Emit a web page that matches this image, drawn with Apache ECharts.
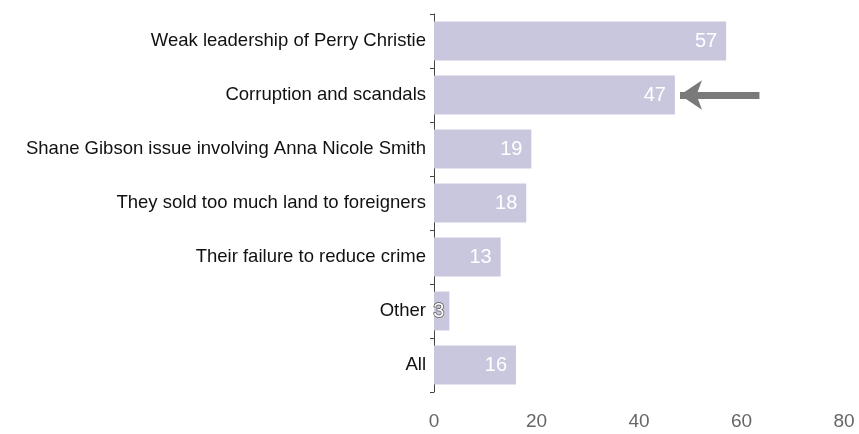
<!DOCTYPE html>
<html><head><meta charset="utf-8">
<script src="https://cdn.jsdelivr.net/npm/echarts@6/dist/echarts.min.js"></script>
<style>html,body{margin:0;padding:0;background:#fff}#c{width:859px;height:434px}</style>
</head><body><div id="c"></div>
<script>
const categories = ["Weak leadership of Perry Christie","Corruption and scandals","Shane Gibson issue involving Anna Nicole Smith","They sold too much land to foreigners","Their failure to reduce crime","Other","All"];
const values = [57,47,19,18,13,3,16];
const xTicks = [0,20,40,60,80];
const arrowFrom = 63.5, arrowTo = 48, arrowCategory = "Corruption and scandals";

const chart = echarts.init(document.getElementById('c'));
chart.setOption({
  animation:false,
  grid:{left:434,right:15,top:14,bottom:42},
  xAxis:{type:'value',min:xTicks[0],max:xTicks[xTicks.length-1],interval:20,
    axisLine:{show:false},axisTick:{show:false},splitLine:{show:false},
    axisLabel:{margin:20,fontSize:19,color:'#666',fontFamily:'Liberation Sans, Arial, sans-serif',
      formatter:v=>xTicks.includes(v)?String(v):''}},
  yAxis:{type:'category',data:categories,inverse:true,
    axisLine:{show:true,lineStyle:{color:'#444',width:1}},
    axisTick:{show:true,length:4,lineStyle:{color:'#444'}},
    axisLabel:{margin:8,fontSize:18.5,color:'#111',fontFamily:'Liberation Sans, Arial, sans-serif'}},
  series:[{type:'bar',barWidth:'72%',
    data:values.map((v,i)=>i===5?{value:v,label:{color:'#fff',textBorderColor:'#555',textBorderWidth:1.5,position:'insideRight',offset:[4,0]}}:v),
    itemStyle:{color:'#c9c7de'},
    label:{show:true,position:'insideRight',color:'#fff',fontSize:20,fontFamily:'Liberation Sans, Arial, sans-serif',distance:9},
    markLine:{silent:true,symbol:['none','arrow'],symbolSize:[22,22],
      lineStyle:{color:'#7a7a7a',width:7,type:'solid'},label:{show:false},
      data:[[{coord:[arrowFrom,arrowCategory]},{coord:[arrowTo,arrowCategory]}]]}
  }]
});
</script></body></html>
